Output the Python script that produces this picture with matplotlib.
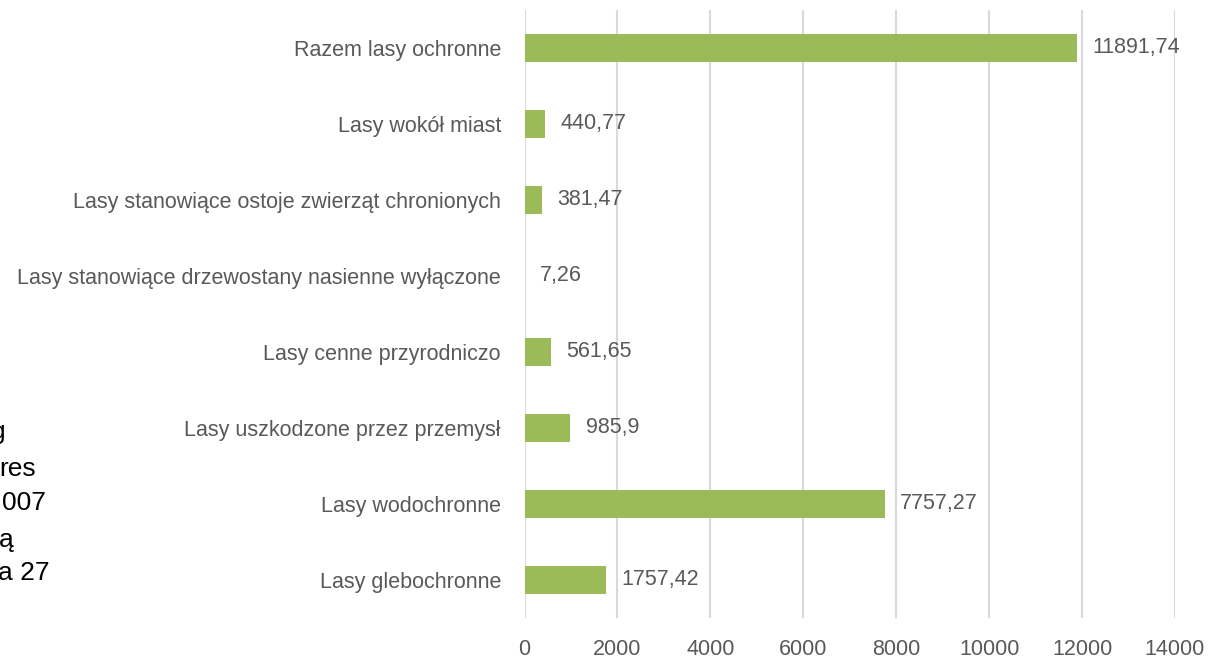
import matplotlib
matplotlib.use("Agg")
import matplotlib.pyplot as plt

categories = [
    "Lasy glebochronne",
    "Lasy wodochronne",
    "Lasy uszkodzone przez przemysł",
    "Lasy cenne przyrodniczo",
    "Lasy stanowiące drzewostany nasienne wyłączone",
    "Lasy stanowiące ostoje zwierząt chronionych",
    "Lasy wokół miast",
    "Razem lasy ochronne",
]
values = [1757.42, 7757.27, 985.9, 561.65, 7.26, 381.47, 440.77, 11891.74]
value_labels = ["1757,42", "7757,27", "985,9", "561,65", "7,26", "381,47", "440,77", "11891,74"]
xticks = [0, 2000, 4000, 6000, 8000, 10000, 12000, 14000]

side_fragments = ["g", "res", "007", "ą", "a 27"]

FONT = "Liberation Sans"
TXT = "#595959"
BAR = "#9BBB59"
GRID = "#D9D9D9"
FS = 15.5

fig = plt.figure(figsize=(12.09, 6.58), dpi=100)
ax = fig.add_axes([524.5 / 1209, 1 - 618 / 658, (1175 - 524.5) / 1209, (618 - 10) / 658])

y = list(range(len(categories)))
ax.barh(y, values, height=0.37, color=BAR, zorder=3)
ax.set_ylim(-0.5, len(categories) - 0.5)
ax.set_xlim(0, 14000)
ax.set_xticks(xticks)
ax.set_xticklabels([str(t) for t in xticks], fontsize=FS, color=TXT, family=FONT)
ax.set_yticks(y)
ax.set_yticklabels(categories, fontsize=FS, color=TXT, family=FONT)
ax.tick_params(axis="both", length=0)
ax.tick_params(axis="x", pad=15)
ax.tick_params(axis="y", pad=17)
ax.grid(axis="x", color=GRID, linewidth=1.5, zorder=0)
for s in ax.spines.values():
    s.set_visible(False)

for yi, v, lab in zip(y, values, value_labels):
    ax.annotate(lab, (v, yi), xytext=(11, 0), textcoords="offset points",
                va="center", ha="left", fontsize=FS, color=TXT, family=FONT)

frag_pos = [(5, 432), (36, 469), (46, 503), (14, 540), (50, 573)]
for t, (px, py) in zip(side_fragments, frag_pos):
    fig.text(px / 1209, 1 - py / 658, t, ha="right", va="center",
             fontsize=19, color="black", family=FONT)

fig.savefig("out.png", dpi=100)
